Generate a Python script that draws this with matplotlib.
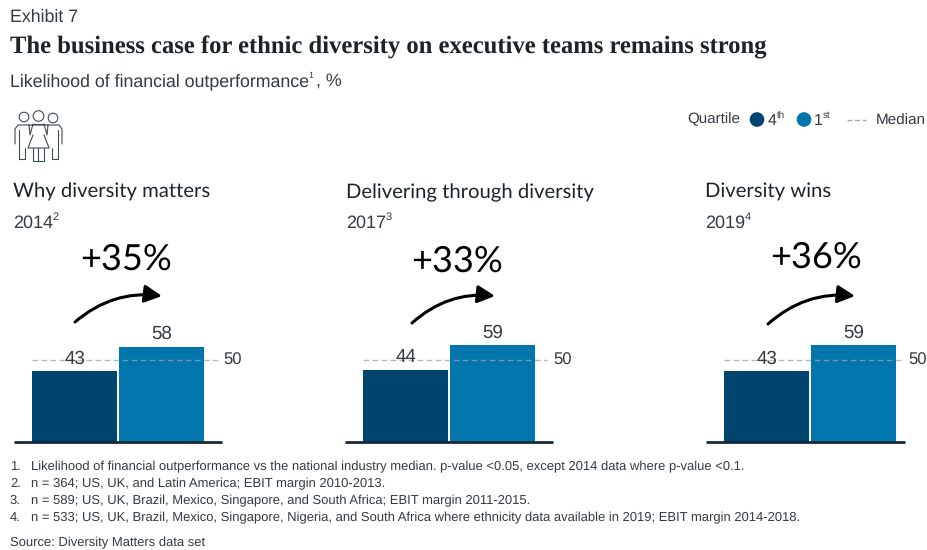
import matplotlib
matplotlib.use("Agg")
import matplotlib.pyplot as plt
from matplotlib.patches import Circle, FancyArrowPatch

plt.rcParams["text.hinting"] = "no_hinting"

W, H = 928, 550

# values for each study
study_names = ["Why diversity matters", "Delivering through diversity", "Diversity wins"]
study_years = ["2014", "2017", "2019"]
year_notes = ["2", "3", "4"]
q4_values = [43, 44, 43]
q1_values = [58, 59, 59]
median_values = [50, 50, 50]
uplift_labels = ["+35%", "+33%", "+36%"]

footnotes = [
    "Likelihood of financial outperformance vs the national industry median. p-value <0.05, except 2014 data where p-value <0.1.",
    "n = 364; US, UK, and Latin America; EBIT margin 2010-2013.",
    "n = 589; US, UK, Brazil, Mexico, Singapore, and South Africa; EBIT margin 2011-2015.",
    "n = 533; US, UK, Brazil, Mexico, Singapore, Nigeria, and South Africa where ethnicity data available in 2019; EBIT margin 2014-2018.",
]

DARK = "#004570"
BLUE = "#0076ad"
TEXT = "#333a40"
SANS = "Liberation Sans"
CALIBRI = "Lato"

fig = plt.figure(figsize=(W / 100, H / 100), dpi=100, facecolor="white")

# overlay in pixel coordinates for text and decoration
page = fig.add_axes([0, 0, 1, 1], zorder=5)
page.set_xlim(0, W)
page.set_ylim(H, 0)
page.axis("off")
page.patch.set_alpha(0)


def put(x, y, s, size, color=TEXT, family=SANS, sup=None, sup_size=None, **kw):
    t = page.text(x, y, s, fontsize=size, color=color, family=family, va="baseline", **kw)
    if sup:
        fig.canvas.draw()
        box = t.get_window_extent()
        page.text(box.x1 - 0.5, y - size * 0.62, sup, fontsize=sup_size or size * 0.62,
                  color=color, family=family, va="baseline")
    return t


# header
put(10, 22, "Exhibit 7", 12.8)
put(10, 53, "The business case for ethnic diversity on executive teams remains strong", 17.76,
    color="#1c2226", family="Liberation Serif", fontweight="bold")
put(10, 86, "Likelihood of financial outperformance", 12.8, sup="1", sup_size=6.5)
put(316, 86, ", %", 12.8)

# people icon
icon = dict(color="#3c4a55", lw=0.8, solid_capstyle="round")
for cx, cy, r in [(24, 117, 4.8), (38.5, 116, 5.3), (53, 118, 4.8)]:
    page.add_patch(Circle((cx, cy), r, fill=False, ec="#3c4a55", lw=0.8))
page.plot([15, 15, 18, 30], [144, 129, 125, 125], **icon)
page.plot([47, 59, 62, 62], [125, 125, 129, 144], **icon)
page.plot([19, 19, 25, 25], [130, 159, 159, 148], **icon)
page.plot([58, 58, 52, 52], [130, 159, 159, 148], **icon)
page.plot([33, 30, 29, 48, 47, 44], [124, 135, 125, 125, 135, 124], **icon)
page.plot([33, 28, 49, 44], [135, 148, 148, 135], **icon)
page.plot([33, 33, 44, 44], [148, 161, 161, 148], **icon)
page.plot([38.5, 38.5], [148, 161], **icon)
page.plot([33, 44], [124, 124], **icon)

# legend
put(687, 123, "Quartile", 10.9)
page.add_patch(Circle((757, 119.5), 7.3, color=DARK, lw=0))
put(768, 125, "4", 11.5, sup="th", sup_size=7)
page.add_patch(Circle((804, 119.5), 7.3, color=BLUE, lw=0))
put(814, 125, "1", 11.5, sup="st", sup_size=7)
page.plot([847, 866], [120, 120], color="#a8a8a8", lw=1, ls=(0, (3.5, 2)))
put(876, 125, "Median", 11)

# one set of bars per study, axis edges and arrow anchors in pixels
panels = [
    dict(left=14, right=222, title_x=13, year_x=13, big_x=80, big_y=270, arrow=(75, 322, 162, 296), dash=(32, 218), med_x=223),
    dict(left=345, right=553, title_x=346, year_x=346, big_x=411, big_y=272, arrow=(412, 323, 495, 296), dash=(363, 547), med_x=553),
    dict(left=706, right=905, title_x=705, year_x=705, big_x=770, big_y=268, arrow=(768, 324, 855, 296), dash=(724, 903), med_x=908),
]
BASE = 442
TOP = 322
SCALE = 1.64  # pixels per percentage point

for i, p in enumerate(panels):
    put(p["title_x"], 198, study_names[i], 14.6, color="#1c2226", family=CALIBRI)
    put(p["year_x"], 228, study_years[i], 13, sup=year_notes[i])
    put(p["big_x"], p["big_y"], uplift_labels[i], 26, color="black", family=CALIBRI)

    ax = fig.add_axes([p["left"] / W, (H - BASE) / H, (p["right"] - p["left"]) / W, (BASE - TOP) / H])
    ax.set_xlim(p["left"], p["right"])
    ax.set_ylim(0, (BASE - TOP) / SCALE)
    ax.axis("off")
    x0 = p["dash"][0]
    ax.bar(x0, q4_values[i], width=85, align="edge", color=DARK, linewidth=0)
    ax.bar(x0 + 87, q1_values[i], width=85, align="edge", color=BLUE, linewidth=0)
    ax.plot(p["dash"], [median_values[i]] * 2, color="#a0a0a0", lw=1, ls=(0, (4, 2.5)), alpha=0.75)
    ax.plot([p["left"], p["right"]], [0, 0], color="#17293a", lw=2, clip_on=False, solid_capstyle="butt")
    ax.text(x0 + 43, q4_values[i] + 2.2, str(q4_values[i]), ha="center", va="bottom", fontsize=13.5,
            color=TEXT, family=SANS)
    ax.text(x0 + 130, q1_values[i] + 2.4, str(q1_values[i]), ha="center", va="bottom", fontsize=13.5,
            color=TEXT, family=SANS)
    ax.text(p["med_x"], median_values[i], str(median_values[i]), va="center", fontsize=12,
            color=TEXT, family=SANS)

    x1, y1, x2, y2 = p["arrow"]
    page.add_patch(FancyArrowPatch((x1, y1), (x2, y2), connectionstyle="arc3,rad=-0.22",
                                   arrowstyle="-|>,head_length=5.5,head_width=2.8", color="black",
                                   lw=2.2, shrinkA=0, shrinkB=0, mutation_scale=1.9))

# notes
note_y = [470, 487, 504, 521]
for num, y, note in zip("1234", note_y, footnotes):
    put(10, y, num + ".", 9.36)
    put(31, y, note, 9.36)
put(10, 546, "Source: Diversity Matters data set", 9.4)

fig.savefig("out.png", dpi=100)
